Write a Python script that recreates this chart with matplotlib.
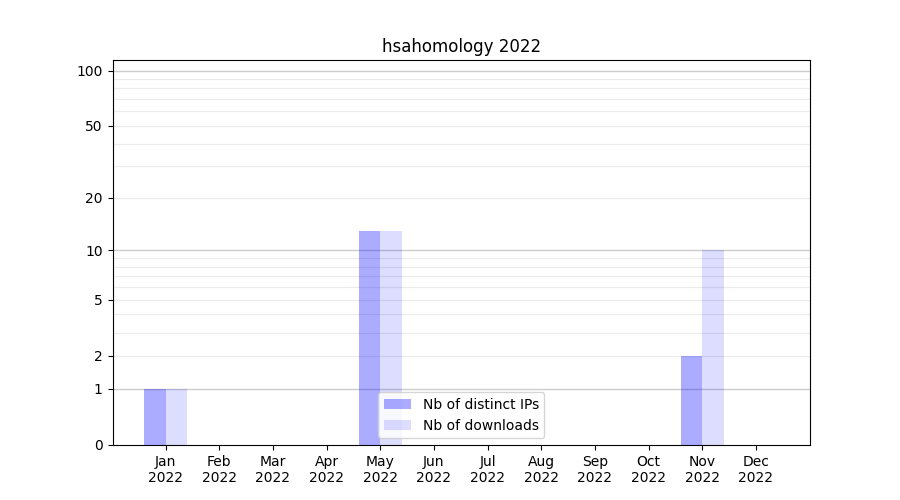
import numpy as np
import matplotlib
matplotlib.use("Agg")
import matplotlib.pyplot as plt

months = ["Jan", "Feb", "Mar", "Apr", "May", "Jun", "Jul", "Aug", "Sep", "Oct", "Nov", "Dec"]
year = "2022"
distinct_ips = [1, 0, 0, 0, 13, 0, 0, 0, 0, 0, 2, 0]
downloads = [1, 0, 0, 0, 13, 0, 0, 0, 0, 0, 10, 0]
ytick_values = [0, 1, 2, 5, 10, 20, 50, 100]
major_grid = [1, 10, 100]
minor_grid = [2, 3, 4, 5, 6, 7, 8, 9, 20, 30, 40, 50, 60, 70, 80, 90]

fig, ax = plt.subplots(figsize=(9, 5), dpi=100)

def fwd(x):
    return np.log10(np.maximum(1 + np.asarray(x, dtype=float), 1e-12))

def inv(y):
    return 10 ** np.asarray(y, dtype=float) - 1

ax.set_yscale('function', functions=(fwd, inv))

for v in minor_grid:
    ax.axhline(v, color='#ebebeb', lw=0.8, zorder=0)
for v in major_grid:
    ax.axhline(v, color='#cccccc', lw=1.0, zorder=0)

x = np.arange(len(months))
ax.bar(x, distinct_ips, width=-0.4, align='edge', color='blue', alpha=0.33,
       label='Nb of distinct IPs', zorder=2)
ax.bar(x, downloads, width=0.4, align='edge', color='blue', alpha=0.135,
       label='Nb of downloads', zorder=2)

ax.set_ylim(0, 114)
ax.set_xlim(-0.99, 12.01)
ax.set_yticks(ytick_values)
ax.set_yticklabels([str(v) for v in ytick_values])
ax.yaxis.set_minor_locator(matplotlib.ticker.NullLocator())
ax.set_xticks(x)
ax.set_xticklabels([f"{m}\n{year}" for m in months])
ax.set_title("hsahomology 2022")
ax.legend(loc='lower center')

fig.savefig("out.png")
